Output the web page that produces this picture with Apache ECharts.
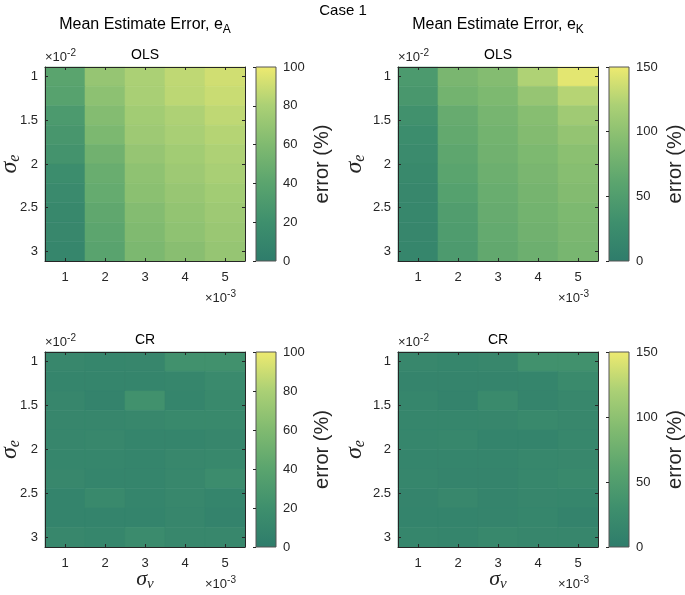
<!DOCTYPE html>
<html><head><meta charset="utf-8">
<script src="https://cdn.jsdelivr.net/npm/echarts@6/dist/echarts.min.js"></script>
<style>html,body{margin:0;padding:0;background:#fff}#c{width:685px;height:595px}</style>
</head><body><div id="c"></div>
<script>
// ---- data ----
const sigmaV = [1, 2, 3, 4, 5];                 // x 10^-3
const sigmaE = [1.000, 1.222, 1.444, 1.667, 1.889, 2.111, 2.333, 2.556, 2.778, 3.000]; // x 10^-2
const xTicks = [1, 2, 3, 4, 5];
const yTicks = [1, 1.5, 2, 2.5, 3];
const cbMaxA = 100, cbStepA = 20;
const cbMaxK = 150, cbStepK = 50;
// rows follow sigmaE (top to bottom), columns follow sigmaV
const olsA = [
  [40, 70, 80, 86, 91],
  [38, 66, 79, 85, 89],
  [30, 62, 76, 81, 86],
  [27, 58, 74, 79, 83],
  [24, 52, 70, 76, 81],
  [18, 48, 67, 74, 79],
  [15, 46, 65, 71, 76],
  [13, 43, 62, 69, 74],
  [12, 41, 60, 67, 72],
  [10, 39, 58, 64, 70]
];
const olsK = [
  [45, 85, 93, 122, 145],
  [42, 80, 88, 105, 125],
  [33, 70, 83, 95, 112],
  [27, 67, 80, 92, 104],
  [24, 63, 78, 88, 98],
  [20, 60, 75, 85, 95],
  [18, 55, 72, 82, 92],
  [17, 50, 70, 80, 88],
  [16, 48, 68, 78, 86],
  [15, 46, 66, 75, 84]
];
const crA = [
  [12, 10, 11, 22, 22],
  [9, 9, 9, 10, 15],
  [11, 7, 22, 9, 14],
  [11, 11, 12, 14, 14],
  [11, 12, 9, 9, 11],
  [10, 10, 9, 12, 13],
  [12, 9, 9, 12, 17],
  [8, 14, 9, 12, 9],
  [8, 8, 8, 11, 7],
  [12, 10, 16, 12, 12]
];
const crK = [
  [18, 15, 18, 33, 33],
  [13, 13, 13, 14, 22],
  [15, 11, 22, 13, 18],
  [15, 15, 16, 20, 18],
  [15, 17, 12, 12, 17],
  [14, 14, 14, 17, 18],
  [15, 13, 13, 17, 20],
  [13, 18, 13, 16, 15],
  [12, 12, 13, 15, 11],
  [15, 14, 19, 16, 16]
];
const colTitles = ['e', 'e'];
const colSubs = ['A', 'K'];
const methods = ['OLS', 'OLS', 'CR', 'CR'];

// ---- layout ----
const cmap = ['#2e7c6b', '#3e8f6d', '#5aa46e', '#80ba70', '#abd075', '#eeea70'];
const panels = [
  { vals: olsA, max: cbMaxA, step: cbStepA, left: 45, top: 67, h: 194, cbLeft: 256, xname: false, yGap: 22 },
  { vals: olsK, max: cbMaxK, step: cbStepK, left: 398, top: 67, h: 194, cbLeft: 609, xname: false, yGap: 30 },
  { vals: crA, max: cbMaxA, step: cbStepA, left: 45, top: 352, h: 195, cbLeft: 256, xname: true, yGap: 22 },
  { vals: crK, max: cbMaxK, step: cbStepK, left: 398, top: 352, h: 195, cbLeft: 609, xname: true, yGap: 30 }
];
const AX = '#262626';
const FONT = '"Liberation Sans", Arial, Helvetica, sans-serif';
const SERIF = '"Liberation Serif", "DejaVu Serif", serif';
const dy = (sigmaE[1] - sigmaE[0]);

const grid = [], xAxis = [], yAxis = [], series = [], visualMap = [], graphic = [];

function cellRender(params, api) {
  const x = api.value(0), y = api.value(1);
  const p0 = api.coord([x - 0.5, y - dy / 2]);
  const p1 = api.coord([x + 0.5, y + dy / 2]);
  const c = api.visual('color');
  return {
    type: 'rect',
    shape: { x: Math.min(p0[0], p1[0]), y: Math.min(p0[1], p1[1]), width: Math.abs(p1[0] - p0[0]), height: Math.abs(p1[1] - p0[1]) },
    style: { fill: c, stroke: c, lineWidth: 0.6 }
  };
}

panels.forEach((p, i) => {
  const gMain = grid.length;
  grid.push({ left: p.left, top: p.top, width: 200, height: p.h, containLabel: false, outerBoundsMode: 'none' });
  const gCb = grid.length;
  grid.push({ left: p.cbLeft, top: p.top, width: 20, height: p.h, containLabel: false, outerBoundsMode: 'none' });

  const xb = xAxis.length;
  xAxis.push({
    gridIndex: gMain, type: 'value', min: 0.5, max: 5.5, position: 'bottom', z: 10,
    axisLine: { show: true, onZero: false, lineStyle: { color: AX, width: 1 } },
    axisTick: { show: true, inside: true, length: 3, customValues: xTicks, lineStyle: { color: AX } },
    axisLabel: { show: true, customValues: xTicks, color: AX, fontSize: 13, fontFamily: FONT, margin: 10 },
    splitLine: { show: false },
    name: p.xname ? '{s|σ}{sub|v}' : '', nameLocation: 'middle', nameGap: 20, nameMoveOverlap: false,
    nameTextStyle: { rich: {
      s: { fontFamily: SERIF, fontStyle: 'italic', fontSize: 22, color: AX },
      sub: { fontFamily: SERIF, fontStyle: 'italic', fontSize: 15, color: AX, padding: [10, 0, 0, 0] }
    } }
  });
  xAxis.push({
    gridIndex: gMain, type: 'value', min: 0.5, max: 5.5, position: 'top', z: 10,
    axisLine: { show: true, onZero: false, lineStyle: { color: AX, width: 1 } },
    axisTick: { show: true, inside: true, length: 3, customValues: xTicks, lineStyle: { color: AX } },
    axisLabel: { show: false }, splitLine: { show: false }
  });
  const yl = yAxis.length;
  yAxis.push({
    gridIndex: gMain, type: 'value', min: 0.8889, max: 3.1111, inverse: true, position: 'left', z: 10,
    axisLine: { show: true, onZero: false, lineStyle: { color: AX, width: 1 } },
    axisTick: { show: true, inside: true, length: 3, customValues: yTicks, lineStyle: { color: AX } },
    axisLabel: { show: true, customValues: yTicks, color: AX, fontSize: 13, fontFamily: FONT, margin: 7 },
    splitLine: { show: false },
    name: '{s|σ}{sub|e}', nameLocation: 'middle', nameGap: p.yGap, nameRotate: 90, nameMoveOverlap: false,
    nameTextStyle: { rich: {
      s: { fontFamily: SERIF, fontStyle: 'italic', fontSize: 24, color: AX },
      sub: { fontFamily: SERIF, fontStyle: 'italic', fontSize: 16, color: AX, padding: [10, 0, 0, 0] }
    } }
  });
  yAxis.push({
    gridIndex: gMain, type: 'value', min: 0.8889, max: 3.1111, inverse: true, position: 'right', z: 10,
    axisLine: { show: true, onZero: false, lineStyle: { color: AX, width: 1 } },
    axisTick: { show: true, inside: true, length: 3, customValues: yTicks, lineStyle: { color: AX } },
    axisLabel: { show: false }, splitLine: { show: false }
  });

  const data = [];
  p.vals.forEach((row, r) => row.forEach((v, c) => data.push([sigmaV[c], sigmaE[r], v])));
  const sMain = series.length;
  series.push({
    type: 'custom', xAxisIndex: xb, yAxisIndex: yl, renderItem: cellRender,
    encode: { x: 0, y: 1 }, data: data, silent: true
  });
  visualMap.push({ show: false, type: 'continuous', min: 0, max: p.max, dimension: 2, seriesIndex: sMain, inRange: { color: cmap } });

  // colorbar
  const xc = xAxis.length;
  xAxis.push({ gridIndex: gCb, type: 'value', min: 0, max: 1, show: false });
  const yc = yAxis.length;
  yAxis.push({
    gridIndex: gCb, type: 'value', min: 0, max: p.max, interval: p.step, position: 'right', z: 10,
    axisLine: { show: false },
    axisTick: { show: true, inside: true, length: 3, lineStyle: { color: AX } },
    axisLabel: { show: true, color: AX, fontSize: 13, fontFamily: FONT, margin: 7 },
    splitLine: { show: false },
    name: 'error (%)', nameLocation: 'middle', nameRotate: 90, nameGap: 36,
    nameTextStyle: { color: AX, fontSize: 20, fontFamily: FONT }
  });
  const cbMax = p.max;
  series.push({
    type: 'custom', xAxisIndex: xc, yAxisIndex: yc, silent: true, data: [[0, 0]],
    renderItem: function (params, api) {
      const a = api.coord([0, 0]), b = api.coord([1, cbMax]);
      return {
        type: 'rect',
        shape: { x: a[0], y: b[1], width: b[0] - a[0], height: a[1] - b[1] },
        style: {
          fill: new echarts.graphic.LinearGradient(0, 1, 0, 0, cmap.map((c, k) => ({ offset: k / (cmap.length - 1), color: c }))),
          stroke: '#555', lineWidth: 1
        }
      };
    }
  });

  // exponent labels
  graphic.push({
    type: 'text', left: p.left, top: p.top - 19,
    style: { text: '×10{sup|-2}', fill: AX, font: '13px ' + FONT,
      rich: { sup: { fontSize: 10, fontFamily: FONT, fill: AX, padding: [0, 0, 8, 0] } } }
  });
  graphic.push({
    type: 'text', left: p.left + 160, top: p.top + p.h + 28,
    style: { text: '×10{sup|-3}', fill: AX, font: '13px ' + FONT,
      rich: { sup: { fontSize: 10, fontFamily: FONT, fill: AX, padding: [0, 0, 8, 0] } } }
  });
  // method title
  graphic.push({
    type: 'text', x: p.left + 100, y: p.top - 12,
    style: { text: methods[i], fill: '#000', font: '14px ' + FONT, align: 'center', verticalAlign: 'middle' }
  });
});

// column titles
[145, 498].forEach((cx, k) => {
  graphic.push({
    type: 'text', x: cx, y: 25,
    style: { text: 'Mean Estimate Error, ' + colTitles[k] + '{sub|' + colSubs[k] + '}', fill: '#000', font: '16px ' + FONT,
      align: 'center', verticalAlign: 'middle',
      rich: { sub: { fontSize: 12, fontFamily: FONT, fill: '#000', padding: [9, 0, 0, 0] } } }
  });
});
graphic.push({
  type: 'text', x: 343, y: 11,
  style: { text: 'Case 1', fill: '#000', font: '15px ' + FONT, align: 'center', verticalAlign: 'middle' }
});

const chart = echarts.init(document.getElementById('c'), null, { renderer: 'canvas' });
chart.setOption({
  backgroundColor: '#fff', animation: false,
  grid, xAxis, yAxis, series, visualMap, graphic
});
</script></body></html>
